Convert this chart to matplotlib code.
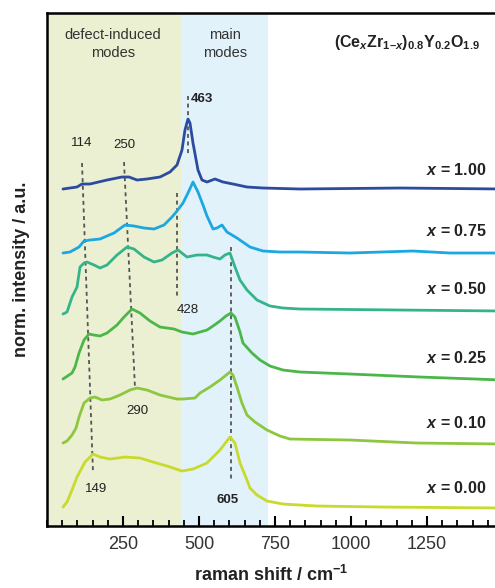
import numpy as np
import matplotlib
matplotlib.use("Agg")
import matplotlib.pyplot as plt
from matplotlib.ticker import MultipleLocator

plt.rcParams['font.family'] = ['Liberation Sans', 'DejaVu Sans']
plt.rcParams['mathtext.fontset'] = 'custom'
plt.rcParams['mathtext.rm'] = 'Liberation Sans:bold'
plt.rcParams['mathtext.bf'] = 'Liberation Sans:bold'
plt.rcParams['mathtext.it'] = 'Liberation Sans:bold:italic'

# raman spectra, stacked with offsets (shift in cm-1, intensity in a.u.)
shift_100 = [52.6, 98.7, 115.1, 141.4, 197.4, 246.7, 269.7, 296.1, 328.9, 371.7, 404.6, 427.6,
             444.1, 453.9, 463.8, 470.4, 480.3, 496.7, 509.9, 526.3, 552.6, 578.9, 611.8, 657.9,
             710.5, 832.2, 1161.0, 1500.0]
int_100 = [337, 339, 342, 342, 346, 349, 349, 346, 347, 349, 354, 361,
           376, 396, 407, 403, 383, 356, 346, 344, 347, 344, 342, 339,
           338, 337, 338, 337]

shift_075 = [52.6, 75.7, 105.3, 121.7, 141.4, 174.3, 220.4, 256.6, 286.2, 319.1, 352.0, 384.9,
             411.2, 427.6, 447.4, 463.8, 480.3, 496.7, 513.2, 526.3, 546.1, 559.2, 575.7, 592.1,
             625.0, 667.8, 710.5, 766.4, 832.2, 996.7, 1204.0, 1325.7, 1500.0]
int_075 = [273, 274, 279, 285, 286, 287, 293, 301, 300, 298, 297, 301,
           309, 315, 323, 333, 344, 334, 321, 310, 297, 298, 301, 294,
           288, 279, 275, 274, 274, 273, 275, 273, 273]

shift_050 = [52.6, 65.8, 82.2, 98.7, 108.6, 121.7, 131.6, 154.6, 174.3, 197.4, 230.3, 263.2,
             286.2, 319.1, 352.0, 378.3, 411.2, 430.9, 460.5, 493.4, 526.3, 546.1, 569.1, 585.5,
             602.0, 618.4, 634.9, 657.9, 690.8, 733.6, 776.3, 832.2, 1161.2, 1500.0]
int_050 = [212, 214, 229, 239, 259, 263, 264, 261, 258, 261, 271, 279,
           277, 269, 264, 266, 273, 276, 269, 271, 271, 269, 267, 271,
           273, 259, 246, 236, 226, 220, 218, 217, 216, 215]

shift_025 = [52.6, 82.2, 92.1, 105.3, 121.7, 138.2, 154.6, 174.3, 197.4, 230.3, 253.3, 279.6,
             305.9, 338.8, 371.7, 417.8, 444.1, 480.3, 503.3, 526.3, 546.1, 569.1, 588.8, 605.3,
             618.4, 634.9, 644.7, 674.3, 700.7, 733.6, 776.3, 832.2, 996.7, 1227.0, 1500.0]
int_025 = [147, 153, 159, 173, 186, 192, 191, 190, 193, 201, 209, 217,
           213, 205, 199, 197, 194, 192, 194, 196, 200, 205, 210, 213,
           209, 194, 183, 173, 166, 160, 156, 154, 152, 149, 146]

shift_010 = [52.6, 65.8, 82.2, 95.4, 105.3, 121.7, 141.4, 157.9, 180.9, 207.2, 240.1, 273.0,
             296.1, 328.9, 371.7, 427.6, 447.4, 486.8, 503.3, 536.2, 569.1, 602.0, 611.8, 625.0,
             641.4, 657.9, 684.2, 723.7, 766.4, 799.3, 996.7, 1217.1, 1500.0]
int_010 = [83, 85, 91, 98, 109, 123, 128, 129, 126, 127, 131, 136,
           138, 136, 131, 127, 127, 128, 133, 139, 146, 154, 151, 139,
           123, 111, 104, 96, 90, 87, 86, 83, 82]

shift_000 = [52.6, 65.8, 82.2, 98.7, 125.0, 151.3, 174.3, 207.2, 256.6, 305.9, 348.7, 394.7,
             444.1, 480.3, 526.3, 569.1, 602.0, 618.4, 634.9, 657.9, 667.8, 690.8, 723.7, 776.3,
             888.2, 1105.3, 1500.0]
int_000 = [19, 24, 36, 49, 64, 72, 69, 67, 69, 68, 64, 60,
           55, 57, 63, 76, 89, 83, 63, 46, 38, 31, 25, 22,
           20, 19, 18]

spectra = [
    (shift_100, int_100, '#2c4a9e', r'$\mathit{x}$ = 1.00', 356),
    (shift_075, int_075, '#1ba7e1', r'$\mathit{x}$ = 0.75', 295),
    (shift_050, int_050, '#35b48c', r'$\mathit{x}$ = 0.50', 237),
    (shift_025, int_025, '#4bb749', r'$\mathit{x}$ = 0.25', 168),
    (shift_010, int_010, '#8dc63f', r'$\mathit{x}$ = 0.10', 103),
    (shift_000, int_000, '#c8da2b', r'$\mathit{x}$ = 0.00', 38),
]

# band positions traced through the spectra (start -> end)
guides = [
    ((115.1, 363), (151.3, 53)),
    ((253.3, 364), (289.5, 138)),
    ((427.6, 333), (427.6, 228)),
    ((463.8, 430), (463.8, 371)),
    ((605.3, 279), (605.3, 46)),
]
peak_labels = [
    ('114', 115, 383, 'normal', 'center'),
    ('250', 253, 381, 'normal', 'center'),
    ('463', 474, 427, 'bold', 'left'),
    ('428', 464, 216, 'normal', 'center'),
    ('290', 296, 115, 'normal', 'center'),
    ('149', 161, 37, 'normal', 'center'),
    ('605', 595, 26, 'bold', 'center'),
]

fig = plt.figure(figsize=(4.95, 5.88), dpi=100)
ax = fig.add_axes([0.095, 0.1054, 0.905, 0.8725])

ax.axvspan(0, 441, color='#ecf0d2', lw=0, zorder=0)
ax.axvspan(441, 727, color='#e1f2fb', lw=0, zorder=0)

for s, y, c, lab, ly in spectra:
    ax.plot(s, y, color=c, lw=2.0, solid_capstyle='round', solid_joinstyle='round', zorder=3)
    ax.text(1447, ly, lab, ha='right', va='center', fontsize=11.5, fontweight='bold', color='#222222')

for (x0, y0), (x1, y1) in guides:
    ax.plot([x0, x1], [y0, y1], color='#555555', lw=1.3, ls=(0, (2.2, 2.0)), zorder=2)

for t, x, y, w, ha in peak_labels:
    ax.text(x, y, t, ha=ha, va='center', fontsize=9.5, fontweight=w, color='#222222')

ax.text(217, 482, 'defect-induced\nmodes', ha='center', va='center', fontsize=10.5,
        color='#333333', linespacing=1.3)
ax.text(586, 482, 'main\nmodes', ha='center', va='center', fontsize=10.5,
        color='#333333', linespacing=1.3)
formula = (r'$\mathrm{(Ce}_{\mathit{x}}\mathrm{Zr}_{\mathrm{1–}\mathit{x}}\mathrm{)}_{\mathrm{0.8}}'
           r'\mathrm{Y}_{\mathrm{0.2}}\mathrm{O}_{\mathrm{1.9}}$')
ax.text(1424, 483, formula, ha='right', va='center', fontsize=11.5, color='#222222')

ax.set_xlim(0, 1474)
ax.set_ylim(0, 513)
ax.set_yticks([])
ax.xaxis.set_major_locator(MultipleLocator(250))
ax.xaxis.set_minor_locator(MultipleLocator(50))
ax.set_xticks([250, 500, 750, 1000, 1250])
ax.tick_params(axis='x', which='major', direction='in', length=7, width=1.5, labelsize=13,
               pad=7, labelcolor='#333333')
ax.tick_params(axis='x', which='minor', direction='in', length=4, width=1.3)
ax.spines['right'].set_visible(False)
for sp in ['left', 'bottom', 'top']:
    ax.spines[sp].set_linewidth(1.8)

ax.set_xlabel(r'raman shift / cm$^{\mathrm{-1}}$', fontsize=13, fontweight='bold', labelpad=9,
              color='#222222')
ax.set_ylabel('norm. intensity / a.u.', fontsize=13, fontweight='bold', labelpad=12,
              color='#222222')

fig.savefig('out.png', dpi=100)
